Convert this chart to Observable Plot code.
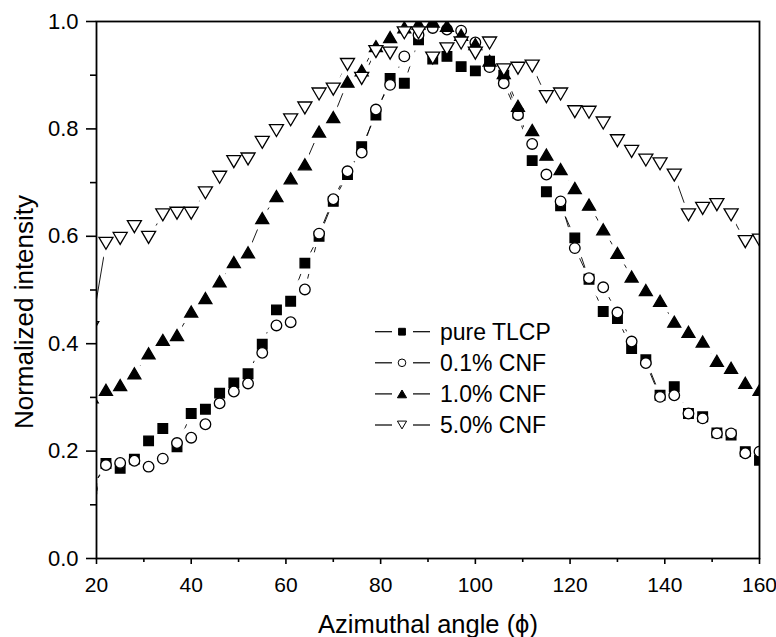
<!DOCTYPE html>
<html><head><meta charset="utf-8">
<script src="https://cdn.jsdelivr.net/npm/d3@7"></script>
<script src="https://cdn.jsdelivr.net/npm/@observablehq/plot@0.6"></script>
<style>
html,body{margin:0;padding:0;background:#fff;}
#wrap{position:relative;width:776px;height:637px;font-family:"Liberation Sans",Arial,sans-serif;color:#000;}
#legend{position:absolute;left:360px;top:310px;}
</style></head><body><div id="wrap"></div>
<script>
// Azimuthal angle (degrees); the first sample lies just outside the axis and is clipped
const angles = [19,22,25,28,31,34,37,40,43,46,49,52,55,58,61,64,67,70,73,76,79,82,85,88,91,94,97,100,103,106,109,112,115,118,121,124,127,130,133,136,139,142,145,148,151,154,157,160];

const pureTLCP = [0.130,0.177,0.168,0.185,0.219,0.242,0.208,0.270,0.278,0.308,0.327,0.344,0.399,0.463,0.479,0.550,0.600,0.665,0.715,0.767,0.826,0.894,0.885,0.966,0.930,0.935,0.916,0.908,0.926,0.900,0.829,0.741,0.683,0.657,0.597,0.520,0.460,0.447,0.391,0.370,0.304,0.320,0.270,0.264,0.234,0.230,0.199,0.183];

const cnf01 = [0.130,0.174,0.178,0.182,0.171,0.186,0.215,0.225,0.250,0.289,0.311,0.326,0.383,0.434,0.440,0.501,0.605,0.669,0.721,0.756,0.836,0.882,0.935,0.975,0.988,0.985,0.983,0.961,0.915,0.885,0.826,0.772,0.715,0.665,0.578,0.522,0.505,0.458,0.404,0.364,0.301,0.304,0.270,0.261,0.233,0.233,0.196,0.199];

const cnf10 = [0.300,0.314,0.323,0.345,0.382,0.407,0.416,0.460,0.485,0.516,0.552,0.570,0.634,0.675,0.708,0.734,0.795,0.822,0.888,0.909,0.954,0.971,0.989,0.996,1.000,0.992,0.975,0.958,0.927,0.904,0.843,0.798,0.752,0.725,0.690,0.659,0.613,0.569,0.525,0.500,0.480,0.441,0.422,0.404,0.368,0.355,0.327,0.314];

const cnf50 = [0.430,0.587,0.596,0.618,0.598,0.640,0.643,0.643,0.681,0.710,0.739,0.744,0.775,0.797,0.817,0.839,0.865,0.874,0.920,0.894,0.944,0.941,0.979,0.979,0.932,0.949,0.960,0.941,0.960,0.910,0.913,0.917,0.860,0.865,0.832,0.831,0.811,0.778,0.758,0.742,0.735,0.714,0.640,0.652,0.659,0.640,0.590,0.593];

const seriesNames = ["pure TLCP", "0.1% CNF", "1.0% CNF", "5.0% CNF"];
const xTicks = [20,40,60,80,100,120,140,160];
const xMinor = [30,50,70,90,110,130,150];
const yTicks = [0,0.2,0.4,0.6,0.8,1.0];
const yMinor = [0.1,0.3,0.5,0.7,0.9];

// symbols
function tri(dir) {
  return { draw(ctx, size) {
    const r = Math.sqrt(size / Math.PI);
    const w = r * 1.35, h = r * 1.15 * dir;
    ctx.moveTo(0, -h); ctx.lineTo(w, h); ctx.lineTo(-w, h); ctx.closePath();
  }};
}
const squareSym = { draw(ctx, size) { const r = Math.sqrt(size / Math.PI); ctx.rect(-r, -r, 2 * r, 2 * r); } };
const circleSym = d3.symbolCircle;
const triUp = tri(1), triDown = tri(-1);

const styles = [
  {symbol: squareSym, r: 4.8, fill: "black", lr: 3.4},
  {symbol: circleSym, r: 5.3, fill: "white", lr: 3.8},
  {symbol: triUp, r: 4.8, fill: "black", lr: 3.4},
  {symbol: triDown, r: 5.2, fill: "white", lr: 3.4}
];
const valueLists = [pureTLCP, cnf01, cnf10, cnf50];
const series = valueLists.map((vals, k) => ({
  name: seriesNames[k], ...styles[k],
  data: angles.map((a, i) => ({angle: a, value: vals[i]}))
}));

const lines = series.map(s => Plot.line(s.data, {x: "angle", y: "value", stroke: "black", strokeWidth: 0.9, clip: true}));
const halos = series.map(s => Plot.dot(s.data, {x: "angle", y: "value", symbol: s.symbol, r: s.r, fill: "white", stroke: "white", strokeWidth: 12, clip: true}));
const markers = series.map(s => Plot.dot(s.data, {x: "angle", y: "value", symbol: s.symbol, r: s.r, fill: s.fill, stroke: "black", strokeWidth: 1.3, clip: true}));

const chart = Plot.plot({
  width: 776, height: 637,
  marginLeft: 96, marginRight: 17, marginTop: 21, marginBottom: 79,
  style: {fontFamily: '"Liberation Sans", Arial, sans-serif', fontSize: "22px", color: "black", background: "white"},
  x: {domain: [20, 160]},
  y: {domain: [0, 1]},
  marks: [
    ...lines, ...halos, ...markers,
    Plot.axisY(yTicks, {tickSize: 10, tickPadding: 8, tickFormat: d3.format(".1f"), fontSize: 22, strokeWidth: 1.6, label: null}),
    Plot.axisY(yMinor, {tickSize: 6, tickFormat: () => "", strokeWidth: 1.6, label: null}),
    Plot.axisX(xTicks, {tickSize: 6, tickPadding: 13, fontSize: 21, strokeWidth: 1.6, label: null}),
    Plot.axisX(xMinor, {tickSize: 4, tickFormat: () => "", strokeWidth: 1.6, label: null}),
    Plot.frame({stroke: "black", strokeWidth: 1.8}),
    Plot.text(["Azimuthal angle (\u03D5)"], {frameAnchor: "bottom", dy: 66, fontSize: 25.5, lineAnchor: "middle", textAnchor: "middle", fill: "black"}),
    Plot.text(["Normalized intensity"], {frameAnchor: "left", rotate: -90, dx: -72, dy: 22, fontSize: 26, lineAnchor: "middle", textAnchor: "middle", fill: "black"})
  ]
});
const wrap = document.getElementById("wrap");
wrap.appendChild(chart);

// legend overlay
const leg = d3.select(wrap).append("svg").attr("id", "legend").attr("width", 240).attr("height", 135);
const rowY = i => 21.7 + i * 31.1;
series.forEach((s, i) => {
  const g = leg.append("g").attr("transform", `translate(0,${rowY(i)})`);
  g.append("line").attr("x1", 15).attr("x2", 32).attr("y1", 0).attr("y2", 0).attr("stroke", "black").attr("stroke-width", 1.2);
  g.append("line").attr("x1", 53).attr("x2", 70).attr("y1", 0).attr("y2", 0).attr("stroke", "black").attr("stroke-width", 1.2);
  g.append("path").attr("transform", "translate(42,0)")
    .attr("d", d3.symbol(s.symbol, Math.PI * s.lr * s.lr)())
    .attr("fill", s.fill).attr("stroke", "black").attr("stroke-width", 1);
  g.append("text").attr("x", 80).attr("y", 0).attr("dy", "0.35em")
    .attr("font-size", 23).attr("font-family", '"Liberation Sans", Arial, sans-serif')
    .attr("fill", "black").text(s.name);
});
</script></body></html>
